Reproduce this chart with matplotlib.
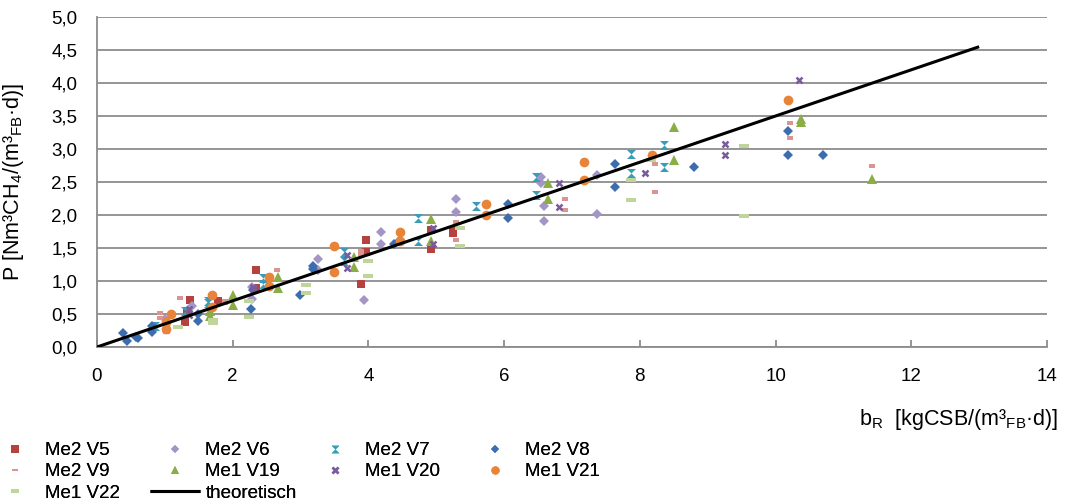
import matplotlib
matplotlib.use("Agg")
import matplotlib.pyplot as plt
from matplotlib.path import Path
from matplotlib.ticker import FuncFormatter

plt.rcParams['font.family'] = ['Liberation Sans', 'DejaVu Sans']
plt.rcParams['mathtext.fontset'] = 'custom'
plt.rcParams['mathtext.rm'] = 'Liberation Sans'
plt.rcParams['mathtext.default'] = 'regular'

# ---- data ----
v5_x = [1.30, 1.33, 1.37, 1.79, 2.34, 2.34, 3.89, 3.96, 3.96, 4.92, 4.92, 5.25, 5.25]
v5_y = [0.38, 0.52, 0.71, 0.69, 1.16, 0.89, 0.96, 1.62, 1.44, 1.78, 1.48, 1.77, 1.72]

v6_x = [1.00, 1.40, 2.29, 2.29, 3.25, 3.25, 3.94, 4.18, 4.18, 5.29, 5.29, 6.54, 6.54, 6.58, 6.58, 7.37, 7.37]
v6_y = [0.42, 0.62, 0.91, 0.72, 1.34, 1.17, 0.71, 1.74, 1.56, 2.25, 2.04, 2.57, 2.48, 2.14, 1.91, 2.60, 2.01]

v7_x = [0.85, 1.30, 1.64, 1.64, 2.44, 2.44, 3.64, 3.64, 4.73, 4.73, 5.58, 6.47, 6.47, 7.87, 7.87, 8.36, 8.36]
v7_y = [0.32, 0.54, 0.69, 0.66, 1.05, 0.96, 1.44, 1.30, 1.96, 1.61, 2.14, 2.57, 2.31, 2.93, 2.63, 3.06, 2.73]

v8_x = [0.39, 0.44, 0.57, 0.60, 0.81, 0.81, 1.49, 1.49, 2.27, 2.30, 2.99, 3.19, 3.19, 4.38, 4.45,
        6.06, 6.06, 7.64, 7.64, 8.80, 10.18, 10.18, 10.70]
v8_y = [0.21, 0.09, 0.15, 0.13, 0.32, 0.22, 0.50, 0.39, 0.57, 0.86, 0.79, 1.22, 1.18, 1.56, 1.60,
        2.17, 1.96, 2.78, 2.43, 2.73, 3.28, 2.91, 2.91]

v9_x = [0.93, 0.93, 1.22, 1.89, 1.89, 2.65, 3.89, 3.89, 5.29, 5.29, 6.89, 6.89, 8.22, 8.22, 10.21, 10.21, 11.42]
v9_y = [0.51, 0.44, 0.74, 0.69, 0.66, 1.16, 1.45, 1.40, 1.89, 1.62, 2.24, 2.08, 2.77, 2.35, 3.39, 3.16, 2.75]

v19_x = [1.66, 1.66, 2.01, 2.01, 2.66, 2.66, 3.79, 3.79, 4.92, 4.92, 6.65, 6.65, 8.50, 8.50, 10.37, 10.37, 11.42]
v19_y = [0.54, 0.47, 0.79, 0.64, 1.06, 0.90, 1.37, 1.21, 1.94, 1.60, 2.49, 2.25, 3.34, 2.84, 3.46, 3.41, 2.55]

v20_x = [1.02, 1.02, 1.36, 1.36, 2.30, 2.30, 3.68, 3.68, 4.95, 4.95, 6.81, 6.81, 8.08, 9.25, 9.25, 10.34]
v20_y = [0.33, 0.26, 0.57, 0.48, 0.91, 0.88, 1.39, 1.19, 1.80, 1.56, 2.48, 2.12, 2.64, 3.08, 2.91, 4.05]

v21_x = [1.09, 1.02, 1.02, 1.69, 1.69, 2.54, 2.54, 3.49, 3.49, 4.47, 4.47, 5.73, 5.73, 7.17, 7.17, 8.18, 10.18]
v21_y = [0.50, 0.38, 0.28, 0.79, 0.61, 1.06, 0.93, 1.53, 1.13, 1.75, 1.61, 2.17, 2.00, 2.81, 2.53, 2.91, 3.74]

v22_x = [1.19, 1.71, 1.71, 2.24, 2.24, 3.08, 3.08, 4.00, 4.00, 5.35, 5.35, 7.87, 7.87, 8.16, 9.54, 9.54]
v22_y = [0.31, 0.41, 0.36, 0.69, 0.46, 0.94, 0.82, 1.30, 1.07, 1.80, 1.53, 2.53, 2.22, 2.84, 3.04, 1.98]

theo_x = [0, 13]
theo_y = [0, 4.55]

x_ticks = [0, 2, 4, 6, 8, 10, 12, 14]
y_ticks = [0.0, 0.5, 1.0, 1.5, 2.0, 2.5, 3.0, 3.5, 4.0, 4.5, 5.0]

# ---- markers ----
hourglass = Path([(-1, 1), (1, 1), (0, 0), (1, -1), (-1, -1), (0, 0), (-1, 1)],
                 [Path.MOVETO, Path.LINETO, Path.LINETO, Path.LINETO, Path.LINETO, Path.LINETO, Path.CLOSEPOLY])
small_dash = Path([(-1, -0.45), (1, -0.45), (1, 0.45), (-1, 0.45), (-1, -0.45)],
                  [Path.MOVETO, Path.LINETO, Path.LINETO, Path.LINETO, Path.CLOSEPOLY])
wide_dash = Path([(-1, -0.35), (1, -0.35), (1, 0.35), (-1, 0.35), (-1, -0.35)],
                 [Path.MOVETO, Path.LINETO, Path.LINETO, Path.LINETO, Path.CLOSEPOLY])

series = [
    ("Me2 V5", v5_x, v5_y, dict(marker='s', ms=6.2, color='#B5423F', mew=0)),
    ("Me2 V6", v6_x, v6_y, dict(marker='D', ms=5.2, color='#A395C6', mew=0)),
    ("Me2 V7", v7_x, v7_y, dict(marker=hourglass, ms=6.5, color='#3A9CB8', mew=0)),
    ("Me2 V8", v8_x, v8_y, dict(marker='D', ms=5.2, color='#3D6DAE', mew=0)),
    ("Me2 V9", v9_x, v9_y, dict(marker=small_dash, ms=5.0, color='#DA9492', mew=0)),
    ("Me1 V19", v19_x, v19_y, dict(marker='^', ms=7.5, color='#8AAD46', mew=0)),
    ("Me1 V20", v20_x, v20_y, dict(marker='x', ms=5.0, color='#7A5B9F', mew=1.8)),
    ("Me1 V21", v21_x, v21_y, dict(marker='o', ms=7.0, color='#E8843A', mew=0)),
    ("Me1 V22", v22_x, v22_y, dict(marker=wide_dash, ms=7.5, color='#C0D59A', mew=0)),
]

fig = plt.figure(figsize=(10.65, 5.04), dpi=100)
ax = fig.add_axes([97 / 1065, 1 - 347 / 504, 950 / 1065, 330 / 504])

handles = {}
for name, xs, ys, st in series:
    h, = ax.plot(xs, ys, linestyle='none', label=name, zorder=3, **st)
    handles[name] = h
h, = ax.plot(theo_x, theo_y, color='black', lw=2.2, label='theoretisch', zorder=4,
             solid_capstyle='butt')
handles['theoretisch'] = h

ax.set_xlim(0, 14)
ax.set_ylim(0, 5)
ax.set_xticks(x_ticks)
ax.set_yticks(y_ticks)
ax.yaxis.set_major_formatter(FuncFormatter(lambda v, p: f"{v:.1f}".replace('.', ',')))
ax.xaxis.set_major_formatter(FuncFormatter(lambda v, p: f"{int(round(v))}"))

grid_col = '#8C8C8C'
ax.grid(axis='y', color=grid_col, lw=1.3)
ax.set_axisbelow(True)
for s in ['top', 'right']:
    ax.spines[s].set_visible(False)
for s in ['left', 'bottom']:
    ax.spines[s].set_color(grid_col)
    ax.spines[s].set_linewidth(1.3)
ax.tick_params(axis='x', direction='in', length=5, width=1.3, color=grid_col,
               labelsize=13.5, pad=15)
ax.tick_params(axis='y', length=0, labelsize=13.5, pad=14)

ax.set_ylabel("P [Nm³CH$_{4}$/(m³$_{FB}$·d)]", fontsize=15.5)
ax.yaxis.set_label_coords((26 - 97) / 950, 0.5)
fig.text(1058 / 1065, 1 - 420 / 504, "b$_{R}$  [kgCSB/(m³$_{FB}$·d)]", fontsize=15.5,
         ha='right', va='center')

# ---- legend: 4 columns placed manually ----
cols = [["Me2 V5", "Me2 V9", "Me1 V22"],
        ["Me2 V6", "Me1 V19", "theoretisch"],
        ["Me2 V7", "Me1 V20"],
        ["Me2 V8", "Me1 V21"]]
col_x0 = [-10, 150, 310, 470]
for names, x0 in zip(cols, col_x0):
    leg = fig.legend([handles[n] for n in names], names, loc='upper left',
                     bbox_to_anchor=(x0 / 1065, 1 - 442 / 504), frameon=False,
                     fontsize=13.5, handlelength=2.65, handletextpad=0.3,
                     labelspacing=0.22, borderpad=0, borderaxespad=0, numpoints=1,
                     markerscale=0.85)
    fig.add_artist(leg)

fig.savefig("out.png", dpi=100)
